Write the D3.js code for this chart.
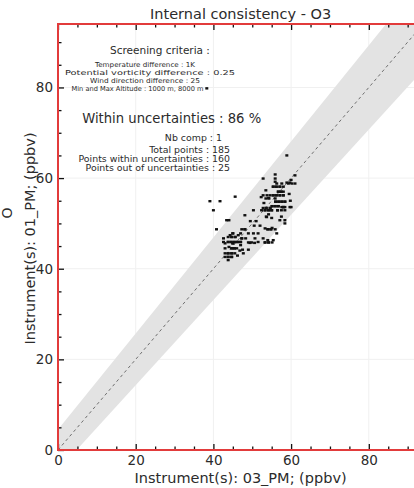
<!DOCTYPE html>
<html>
<head>
<meta charset="utf-8">
<script src="https://cdn.jsdelivr.net/npm/d3@7"></script>
<style>
  html, body { margin: 0; padding: 0; background: #fff; overflow: hidden; }
  svg { display: block; font-family: "DejaVu Sans", sans-serif; }
</style>
</head>
<body>
<svg id="chart" width="414" height="488"></svg>
<script>
// O3 from instrument 03_PM (x) against instrument 01_PM (y), ppbv
const instr03 = [
  58.9,55.9,52.8,55.9,55.9,61.0,60.0,55.4,56.2,57.1,
  58.0,59.3,60.2,61.0,56.7,57.4,58.0,53.5,53.8,54.6,
  55.4,56.2,57.1,58.0,59.5,52.3,54.2,56.0,56.8,57.6,
  58.4,59.8,53.0,55.1,55.9,56.7,58.0,60.0,52.4,53.3,
  54.2,55.0,56.5,57.5,58.4,52.8,53.6,54.6,57.6,58.4,
  54.2,53.6,55.0,57.5,58.4,58.4,54.0,54.8,55.9,56.3,
  50.7,52.8,53.3,54.2,55.1,51.5,49.8,39.1,41.7,45.6,
  40.0,50.3,48.1,43.4,44.0,40.8,38.3,47.3,48.1,45.0,
  47.0,49.0,51.5,42.6,43.8,44.7,45.6,47.3,48.3,43.8,
  44.6,45.4,46.2,47.0,43.0,45.0,47.0,49.0,43.0,44.7,
  45.4,46.0,47.5,49.0,43.0,43.8,44.7,45.5,43.0,43.8,
  44.7,46.2,43.8,51.0,52.0,50.5,49.5,56.3,57.6,58.9,
  59.7,52.8,53.5,54.3,55.9,59.7,53.7,57.1,53.3,55.1,
  44.3,46.4,50.3,54.0,55.4,42.6,49.4,50.6,44.0,46.8,
  47.7,
  55.4,56.2,57.1,56.7,57.4,55.4,56.2,57.1,56.0,56.8,
  55.1,55.9,53.3,54.2,55.0,53.6,54.6,58.0,57.6,58.0,
  44.7,45.6,44.6,45.4,46.2,44.7,45.4,43.8,44.7,43.8,
  44.7,47.3,45.0,43.8,47.0,48.1,54.0,54.8,53.3,54.2,
  58.4,56.7,56.5,45.0
];
const instr01 = [
  65.0,60.8,59.9,59.9,59.2,60.6,59.6,58.1,58.1,58.1,
  58.1,58.8,58.8,58.8,57.0,57.0,57.0,57.3,56.2,56.2,
  56.2,56.2,56.2,56.2,56.5,55.8,55.6,54.8,54.8,54.8,
  54.8,55.0,54.5,53.8,53.8,53.8,53.6,53.6,52.9,52.9,
  52.9,52.9,52.9,52.9,52.9,53.4,53.4,53.4,53.6,53.6,
  52.0,51.5,51.2,51.5,50.7,50.0,48.7,48.7,48.7,47.8,
  46.7,46.7,45.8,45.8,45.8,45.9,45.8,54.9,54.9,55.9,
  52.9,52.9,51.8,50.7,50.7,48.7,79.8,48.7,48.7,47.8,
  47.8,47.8,47.8,46.7,47.0,47.0,47.0,46.7,46.7,45.9,
  45.9,45.9,45.9,45.9,45.6,45.6,45.2,45.8,44.5,44.5,
  44.5,44.5,44.2,44.2,43.4,43.4,43.4,43.4,42.6,42.6,
  42.6,42.9,41.9,50.5,49.5,49.5,50.5,58.8,58.8,59.0,
  59.0,56.2,55.5,55.5,55.5,53.6,51.4,50.7,48.9,49.0,
  47.4,47.4,47.8,46.3,46.3,45.9,45.7,45.7,44.8,44.0,
  43.4,
  58.1,58.1,58.1,57.0,57.0,56.2,56.2,56.2,54.8,54.8,
  53.8,53.8,52.9,52.9,52.9,53.4,53.4,53.6,54.8,56.2,
  47.0,47.0,45.9,45.9,45.9,44.5,44.5,43.4,43.4,42.6,
  42.6,46.7,45.6,45.9,45.9,48.7,48.7,48.7,45.8,45.8,
  54.8,53.8,52.9,47.8
];

const majorTicks = [0, 20, 40, 60, 80];
const minorStep = 5;
const axisMax = 94;
// uncertainty envelope around y = x : absolute part (ppbv) and relative part
const bandAbs = 4.5;
const bandRel = 0.06;

const titleText = "Internal consistency - O3";
const criteriaTitle = "Screening criteria :";
const criteriaLines = [
  "Temperature difference : 1K",
  "Potential vorticity difference : 0.25",
  "Wind direction difference : 25",
  "Min and Max Altitude : 1000 m, 8000 m"
];
const withinText = "Within uncertainties : 86 %";
const nbCompText = "Nb comp  : 1";
const statLines = [
  "Total points : 185",
  "Points within uncertainties : 160",
  "Points out of uncertainties : 25"
];
const xLabel = "Instrument(s): 03_PM; (ppbv)";
const yLabel = "Instrument(s): 01_PM; (ppbv)";

const svg = d3.select("#chart");
const L = 58, T = 24, B = 450, R = 423.2;
const textColor = "#2b2b2b";
const spineColor = "#e23b3b";

const x = d3.scaleLinear().domain([0, axisMax]).range([L, R]);
const y = d3.scaleLinear().domain([0, axisMax]).range([B, T]);

svg.append("defs").append("clipPath").attr("id", "plotclip")
  .append("rect").attr("x", L).attr("y", T).attr("width", R - L).attr("height", B - T);

const plot = svg.append("g").attr("clip-path", "url(#plotclip)");

// faint grid
plot.selectAll("line.gx").data(majorTicks.slice(1)).join("line")
  .attr("x1", d => x(d)).attr("x2", d => x(d)).attr("y1", T).attr("y2", B)
  .attr("stroke", "#f0f0f0").attr("stroke-width", 1);
plot.selectAll("line.gy").data(majorTicks.slice(1)).join("line")
  .attr("y1", d => y(d)).attr("y2", d => y(d)).attr("x1", L).attr("x2", R)
  .attr("stroke", "#f0f0f0").attr("stroke-width", 1);

// uncertainty band
const bandPts = [
  [0, bandAbs],
  [axisMax, axisMax * (1 + bandRel) + bandAbs],
  [axisMax, axisMax * (1 - bandRel) - bandAbs],
  [0, -bandAbs]
];
plot.append("path")
  .attr("d", d3.line().x(d => x(d[0])).y(d => y(d[1]))(bandPts) + "Z")
  .attr("fill", "#e3e3e3");

// one-to-one line
plot.append("line")
  .attr("x1", x(0)).attr("y1", y(0)).attr("x2", x(axisMax)).attr("y2", y(axisMax))
  .attr("stroke", "#6e6e6e").attr("stroke-width", 1).attr("stroke-dasharray", "3,3");

// points
plot.selectAll("rect.pt").data(instr03.map((v, i) => [v, instr01[i]])).join("rect")
  .attr("x", d => x(d[0]) - 1.5).attr("y", d => y(d[1]) - 1.2)
  .attr("width", 3).attr("height", 2.4).attr("fill", "#111");

// ticks
const minorTicks = d3.range(minorStep, axisMax, minorStep).filter(v => v % 20 !== 0);
function styleAxis(g) {
  g.select(".domain").remove();
  g.selectAll(".tick line").attr("stroke", "#111").attr("stroke-width", 1.3);
  g.selectAll(".tick text").attr("fill", textColor).attr("font-size", 13.5)
    .attr("font-family", "DejaVu Sans, sans-serif");
}
svg.append("g").attr("transform", `translate(0,${B})`)
  .call(d3.axisBottom(x).tickValues(majorTicks).tickSize(-6).tickPadding(5).tickFormat(d3.format("d")))
  .call(styleAxis);
svg.append("g").attr("transform", `translate(0,${B})`)
  .call(d3.axisBottom(x).tickValues(minorTicks).tickSize(-3.5).tickFormat(""))
  .call(styleAxis);
svg.append("g").attr("transform", `translate(${L},0)`)
  .call(d3.axisLeft(y).tickValues(majorTicks).tickSize(-6).tickPadding(5).tickFormat(d3.format("d")))
  .call(styleAxis);
svg.append("g").attr("transform", `translate(${L},0)`)
  .call(d3.axisLeft(y).tickValues(minorTicks).tickSize(-3.5).tickFormat(""))
  .call(styleAxis);
svg.append("g").attr("transform", `translate(0,${T})`)
  .call(d3.axisTop(x).tickValues(majorTicks).tickSize(-6).tickFormat(""))
  .call(styleAxis);
svg.append("g").attr("transform", `translate(0,${T})`)
  .call(d3.axisTop(x).tickValues(minorTicks).tickSize(-3.5).tickFormat(""))
  .call(styleAxis);

// spines
svg.append("line").attr("x1", L).attr("x2", L).attr("y1", T).attr("y2", B)
  .attr("stroke", spineColor).attr("stroke-width", 2);
svg.append("line").attr("x1", L - 1).attr("x2", 414).attr("y1", B).attr("y2", B)
  .attr("stroke", spineColor).attr("stroke-width", 2);
svg.append("line").attr("x1", L - 1).attr("x2", 414).attr("y1", T).attr("y2", T)
  .attr("stroke", spineColor).attr("stroke-width", 2);

// title and axis labels
svg.append("text").attr("x", (L + R) / 2).attr("y", 19).attr("text-anchor", "middle")
  .attr("font-size", 14.5).attr("fill", textColor).text(titleText);
svg.append("text").attr("x", (L + R) / 2).attr("y", 483).attr("text-anchor", "middle")
  .attr("font-size", 14.5).attr("fill", textColor).text(xLabel);
svg.append("text").attr("transform", "translate(35,238.5) rotate(-90)").attr("text-anchor", "middle")
  .attr("font-size", 14.5).attr("fill", textColor).text(yLabel);
svg.append("text").attr("transform", "translate(11.5,213) rotate(-90)").attr("text-anchor", "middle")
  .attr("font-size", 14).attr("fill", textColor).text("O");

// annotation block
function squished(xp, yc, str, size, anchor, sy, len) {
  const t = svg.append("g").attr("transform", `translate(${xp},${yc}) scale(1,${sy})`)
    .append("text").attr("text-anchor", anchor).attr("dy", "0.36em")
    .attr("font-size", size).attr("fill", textColor).text(str);
  if (len) t.attr("textLength", len).attr("lengthAdjust", "spacingAndGlyphs");
}
svg.append("text").attr("x", 160).attr("y", 54).attr("text-anchor", "middle")
  .attr("font-size", 10.5).attr("fill", textColor).text(criteriaTitle);
const critY = [65, 72.8, 80.6, 88.4];
const critX = [145, 150, 145, 137.5];
const critW = [100, 170, 110, 132];
criteriaLines.forEach((s, i) => squished(critX[i], critY[i], s, 8.4, "middle", 0.8, critW[i]));
svg.append("text").attr("x", 171.7).attr("y", 123).attr("text-anchor", "middle")
  .attr("font-size", 13.2).attr("fill", textColor).text(withinText);
squished(222, 138.3, nbCompText, 9.4, "end", 0.85);
const statY = [150.5, 159.5, 168.3];
statLines.forEach((s, i) => squished(230, statY[i], s, 9.4, "end", 0.85));
</script>
</body>
</html>
